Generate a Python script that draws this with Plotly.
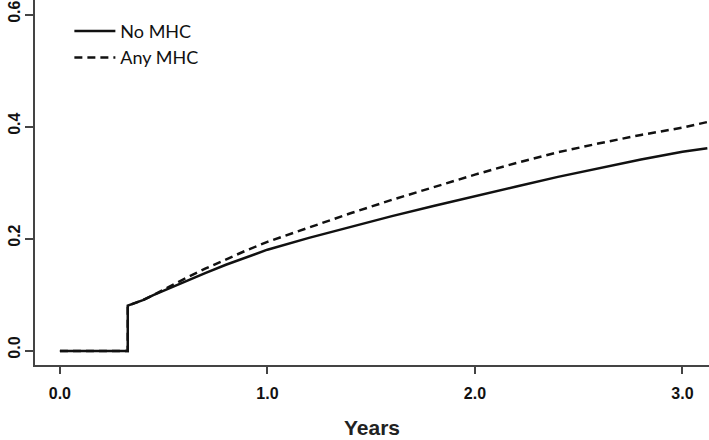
import plotly.graph_objects as go

# Cumulative incidence curves
years_no = [0.0, 0.327, 0.327, 0.35, 0.40, 0.45, 0.50, 0.60, 0.70, 0.80, 0.90, 1.00,
            1.20, 1.40, 1.60, 1.80, 2.00, 2.20, 2.40, 2.60, 2.80, 3.00, 3.12]
no_mhc = [0.0, 0.0, 0.081, 0.084, 0.091, 0.100, 0.108, 0.124, 0.139, 0.154, 0.168, 0.181,
          0.202, 0.222, 0.241, 0.259, 0.277, 0.294, 0.311, 0.327, 0.342, 0.356, 0.362]

years_any = [0.0, 0.327, 0.327, 0.35, 0.40, 0.45, 0.50, 0.60, 0.70, 0.80, 0.90, 1.00,
             1.20, 1.40, 1.60, 1.80, 2.00, 2.20, 2.40, 2.60, 2.80, 3.00, 3.12]
any_mhc = [0.0, 0.0, 0.081, 0.084, 0.091, 0.100, 0.110, 0.129, 0.147, 0.164, 0.180, 0.195,
           0.221, 0.246, 0.270, 0.293, 0.315, 0.336, 0.355, 0.371, 0.386, 0.399, 0.409]

x_ticks = [0, 1, 2, 3]
y_ticks = [0.0, 0.2, 0.4, 0.6]

fig = go.Figure()
fig.add_trace(go.Scatter(x=years_no, y=no_mhc, mode="lines", name="No MHC",
                         line=dict(color="#111111", width=2.5)))
fig.add_trace(go.Scatter(x=years_any, y=any_mhc, mode="lines", name="Any MHC",
                         line=dict(color="#111111", width=2.5, dash="8px,5px")))

tick_bold = dict(family="Liberation Sans, Arial, sans-serif",
                 size=16, color="#111111", weight="bold")

fig.update_layout(
    width=709, height=440,
    margin=dict(l=35, r=0, t=0, b=75, autoexpand=False),
    paper_bgcolor="white", plot_bgcolor="white",
    showlegend=True,
    legend=dict(x=0.051, y=0.965, xanchor="left", yanchor="top",
                font=dict(family="Lato, Open Sans, sans-serif", size=18, color="#111111"),
                bgcolor="rgba(0,0,0,0)", tracegroupgap=0, itemwidth=41),
    xaxis=dict(range=[-0.12, 3.128], tickvals=x_ticks, tickformat=".1f",
               showgrid=False, zeroline=False, showline=True, linecolor="#444444",
               linewidth=2, ticks="outside", ticklen=7, tickwidth=2, tickcolor="#444444",
               tickfont=tick_bold, ticklabelstandoff=6,
               title=dict(text="<b>Years</b>", standoff=19,
                          font=dict(family="Liberation Sans, Arial, sans-serif",
                                    size=21, color="#222222"))),
    yaxis=dict(range=[-0.025, 0.627], tickvals=y_ticks, tickformat=".1f",
               showgrid=False, zeroline=False, showline=True, linecolor="#444444",
               linewidth=2, ticks="outside", ticklen=8, tickwidth=1.5, tickcolor="#444444",
               tickangle=-90, tickfont=tick_bold, ticklabelstandoff=-1,
               ticklabelshift=-1, ticklabeloverflow="allow"),
)

fig.write_html("out.html", config={"displayModeBar": False})

# remove the browser's default page margin so the figure sits at the window origin
with open("out.html", "r", encoding="utf-8") as f:
    html = f.read()
html = html.replace("<head>", "<head><style>html,body{margin:0;padding:0;overflow:hidden;}</style>", 1)
with open("out.html", "w", encoding="utf-8") as f:
    f.write(html)
